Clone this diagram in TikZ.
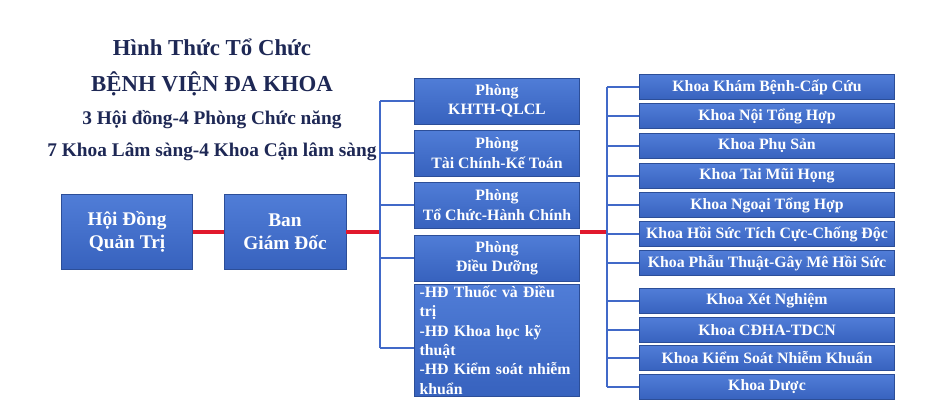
\documentclass[tikz,border=0pt]{standalone}
\usepackage{fontspec}
\setmainfont{Liberation Serif}
\definecolor{boxblue}{RGB}{55,98,190}
\definecolor{boxtop}{RGB}{80,125,215}
\definecolor{lineblue}{RGB}{65,105,200}
\definecolor{linkred}{RGB}{225,25,45}
\definecolor{titleblue}{RGB}{30,40,85}
\tikzset{
  unitbox/.style={draw=boxblue!80!black,top color=boxtop,bottom color=boxblue,
    text=white,font=\bfseries\fontsize{9}{11}\selectfont,align=center,inner sep=1pt},
  branch/.style={lineblue,line width=1.2pt},
  redlink/.style={linkred,line width=2.5pt}
}
\begin{document}
\begin{tikzpicture}[x=0.02cm,y=-0.02cm]
\useasboundingbox (0,0) rectangle (941,406);
% title
\foreach \t/\y/\s in {Hình Thức Tổ Chức/47/13,BỆNH VIỆN ĐA KHOA/84/13,3 Hội đồng-4 Phòng Chức năng/120/11,7 Khoa Lâm sàng-4 Khoa Cận lâm sàng/152/11}
  {\node[text=titleblue,font=\bfseries\fontsize{\s}{\s}\selectfont] at (212,\y) {\t};}
% left boxes
\node[unitbox,minimum width=2.62cm,minimum height=1.5cm,font=\bfseries\fontsize{11}{13}\selectfont] (hdqt) at (127,232) {Hội Đồng\\Quản Trị};
\node[unitbox,minimum width=2.44cm,minimum height=1.5cm,font=\bfseries\fontsize{11}{13}\selectfont] (bgd) at (285,232) {Ban\\Giám Đốc};
% middle boxes
\foreach \n/\y/\t in {p1/101/{Phòng\\KHTH-QLCL},p2/153/{Phòng\\Tài Chính-Kế Toán},p3/205/{Phòng\\Tổ Chức-Hành Chính},p4/258/{Phòng\\Điều Dưỡng}}
  {\node[unitbox,minimum width=3.3cm,minimum height=0.92cm] (\n) at (497,\y) {\t};}
\node[unitbox,minimum width=3.3cm,minimum height=2.2cm,align=left,anchor=north,text width=3.1cm] (hd) at (497,284)
  {-HĐ Thuốc và Điều trị\\-HĐ Khoa học kỹ\\thuật\\-HĐ Kiểm soát nhiễm\\khuẩn\\[10pt]};
% right boxes
\foreach \n/\y/\t in {k1/87/Khoa Khám Bệnh-Cấp Cứu,k2/116/Khoa Nội Tổng Hợp,k3/146/Khoa Phụ Sản,k4/176/Khoa Tai Mũi Họng,k5/205/Khoa Ngoại Tổng Hợp,k6/234/Khoa Hồi Sức Tích Cực-Chống Độc,k7/263/Khoa Phẫu Thuật-Gây Mê Hồi Sức,k8/301/Khoa Xét Nghiệm,k9/330/Khoa CĐHA-TDCN,k10/358/Khoa Kiểm Soát Nhiễm Khuẩn,k11/387/Khoa Dược}
  {\node[unitbox,minimum width=5.1cm,minimum height=0.5cm] (\n) at (767,\y) {\t};}
% connectors
\coordinate (m1) at (380,232);
\coordinate (m2) at (607,232);
\draw[redlink] (hdqt.east) -- (bgd.west);
\draw[redlink] (bgd.east) -- (m1);
\draw[redlink] (p1.east|-m2) -- (m2);
\draw[branch] (380,101) -- (380,348);
\foreach \n in {p1,p2,p3,p4}{\draw[branch] (380,0|-\n) -- (\n.west);}
\draw[branch] (380,348) -- (hd.west|-0,348);
\draw[branch] (607,87) -- (607,387);
\foreach \n in {k1,k2,k3,k4,k5,k6,k7,k8,k9,k10,k11}{\draw[branch] (607,0|-\n) -- (\n.west);}
\end{tikzpicture}
\end{document}
